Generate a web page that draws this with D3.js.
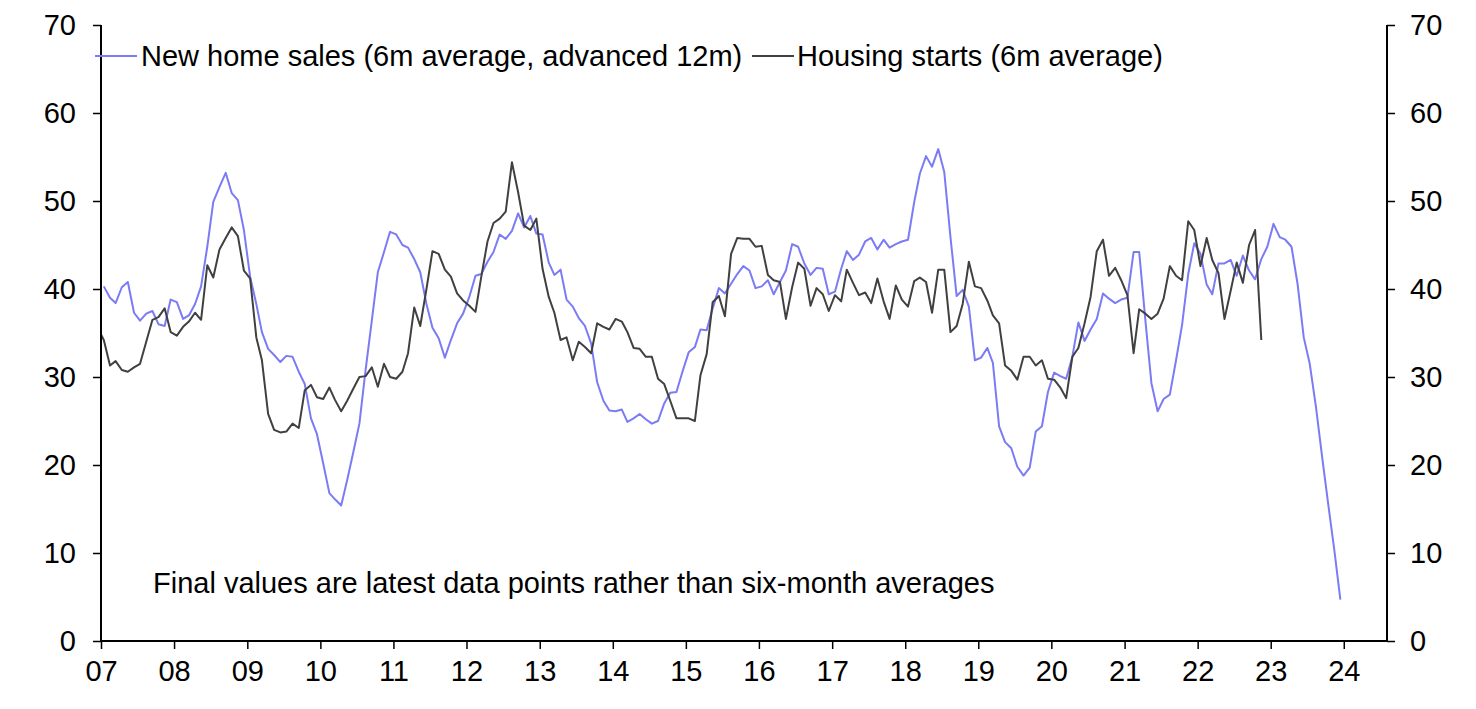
<!DOCTYPE html>
<html>
<head>
<meta charset="utf-8">
<script src="https://cdn.jsdelivr.net/npm/d3@7"></script>
<style>
  html, body { margin: 0; padding: 0; background: #fff; }
  svg { display: block; }
  text { font-family: "Liberation Sans", Arial, sans-serif; fill: #000; }
</style>
</head>
<body>
<svg id="chart" width="1476" height="709"></svg>
<script>
// New home sales (6m average, advanced 12m), monthly from Jan 2007
const salesStart = [2007, 0];
const newHomeSales = [
  40.3, 39.0, 38.4, 40.2, 40.8, 37.3, 36.4, 37.2, 37.5, 36.0, 35.8, 38.8,
  38.5, 36.6, 37.0, 38.3, 40.3, 44.8, 49.9, 51.6, 53.2, 50.9, 50.1, 46.7,
  41.4, 38.3, 35.1, 33.2, 32.5, 31.7, 32.4, 32.3, 30.6, 29.2, 25.3, 23.5,
  20.2, 16.8, 16.1, 15.4, 18.3, 21.5, 24.7, 30.8, 36.4, 41.9, 44.2, 46.5,
  46.2, 45.0, 44.7, 43.4, 41.9, 38.3, 35.6, 34.4, 32.2, 34.2, 36.1, 37.2,
  39.1, 41.5, 41.7, 43.1, 44.2, 46.2, 45.7, 46.6, 48.6, 47.0, 48.3, 46.3,
  46.2, 43.0, 41.6, 42.2, 38.8, 38.0, 36.7, 35.8, 33.8, 29.4, 27.3, 26.2,
  26.1, 26.3, 24.9, 25.3, 25.8, 25.2, 24.7, 25.0, 27.0, 28.2, 28.3, 30.6,
  32.8, 33.4, 35.4, 35.3, 37.8, 40.1, 39.5, 40.6, 41.7, 42.6, 42.1, 40.1,
  40.3, 41.0, 39.4, 40.8, 42.1, 45.1, 44.8, 42.9, 41.6, 42.4, 42.3, 39.4,
  39.7, 42.3, 44.3, 43.3, 43.9, 45.4, 45.8, 44.5, 45.6, 44.7, 45.1, 45.4,
  45.6, 49.9, 53.1, 55.1, 53.9, 55.9, 53.3, 45.9, 39.2, 39.9, 38.0, 31.9,
  32.2, 33.3, 31.6, 24.4, 22.6, 21.9, 19.8, 18.8, 19.7, 23.8, 24.4, 28.3,
  30.5, 30.1, 29.8, 32.3, 36.2, 34.1, 35.4, 36.6, 39.5, 38.9, 38.4, 38.8,
  39.0, 44.2, 44.2, 36.4, 29.3, 26.1, 27.5, 28.0, 31.9, 35.9, 41.7, 45.2,
  44.0, 40.5, 39.4, 42.9, 42.9, 43.3, 41.5, 43.8, 42.1, 41.1, 43.4, 44.8,
  47.4, 45.9, 45.6, 44.8, 40.6, 34.5, 31.5, 26.6, 20.9, 15.6, 10.3, 4.7
];

// Housing starts (6m average), monthly from Dec 2006
const startsStart = [2006, 11];
const housingStarts = [
  35.6,
  34.2, 31.3, 31.8, 30.8, 30.6, 31.1, 31.5, 34.0, 36.5, 36.8, 37.8, 35.1,
  34.7, 35.7, 36.3, 37.3, 36.5, 42.7, 41.3, 44.5, 45.8, 47.0, 46.0, 42.1,
  41.2, 34.5, 31.9, 25.8, 24.0, 23.7, 23.8, 24.7, 24.2, 28.5, 29.1, 27.7,
  27.5, 28.8, 27.4, 26.1, 27.3, 28.7, 30.0, 30.1, 31.1, 28.9, 31.5, 30.0,
  29.8, 30.6, 32.7, 37.9, 35.8, 40.0, 44.3, 44.0, 42.2, 41.4, 39.5, 38.7,
  38.1, 37.4, 41.4, 45.4, 47.5, 48.0, 48.8, 54.4, 51.0, 47.2, 46.7, 48.0,
  42.3, 39.1, 37.3, 34.2, 34.5, 31.9, 34.0, 33.4, 32.7, 36.1, 35.7, 35.4,
  36.6, 36.3, 35.1, 33.3, 33.2, 32.3, 32.3, 29.8, 29.2, 27.3, 25.3, 25.3,
  25.3, 25.0, 30.2, 32.6, 38.5, 39.2, 36.9, 44.0, 45.8, 45.7, 45.7, 44.8,
  44.9, 41.6, 41.0, 40.8, 36.6, 40.2, 43.0, 42.3, 38.1, 40.1, 39.4, 37.5,
  39.3, 38.6, 42.2, 40.7, 39.3, 39.6, 38.4, 41.2, 38.6, 36.6, 40.4, 38.8,
  38.0, 40.9, 41.3, 40.8, 37.3, 42.2, 42.2, 35.1, 35.8, 38.3, 43.1, 40.3,
  40.1, 38.7, 37.0, 36.1, 31.3, 30.7, 29.7, 32.3, 32.3, 31.3, 31.9, 29.8,
  29.7, 28.8, 27.6, 32.3, 33.3, 36.1, 39.1, 44.3, 45.6, 41.5, 42.4, 41.0,
  39.3, 32.7, 37.7, 37.2, 36.6, 37.2, 38.9, 42.6, 41.5, 41.0, 47.7, 46.7,
  42.6, 45.8, 43.3, 41.8, 36.6, 39.8, 43.0, 40.7, 45.0, 46.7, 34.2
];

const yTicks = [0, 10, 20, 30, 40, 50, 60, 70];
const xTickYears = d3.range(2007, 2025);
const seriesNames = ["New home sales (6m average, advanced 12m)", "Housing starts (6m average)"];
const annotation = "Final values are latest data points rather than six-month averages";

const colors = { sales: "#7b7bf5", starts: "#404040" };

(function () {
const svg = d3.select("#chart");
const pL = 101, pR = 1387, pT = 25, pB = 641;

const x = d3.scaleTime()
  .domain([new Date(2007, 0, 1), new Date(2024, 7, 4)])
  .range([pL, pR]);
const y = d3.scaleLinear().domain([0, 70]).range([pB, pT]);

const toPoints = (arr, start) => arr.map((v, i) => ({ date: new Date(start[0], start[1] + i, 15), v }));
const salesPts = toPoints(newHomeSales, salesStart);
const startsPts = toPoints(housingStarts, startsStart);

svg.append("defs").append("clipPath").attr("id", "clip")
  .append("rect").attr("x", pL).attr("y", pT).attr("width", pR - pL).attr("height", pB - pT);

const line = d3.line().x(d => x(d.date)).y(d => y(d.v));

const g = svg.append("g").attr("clip-path", "url(#clip)");
g.append("path").datum(salesPts).attr("d", line)
  .attr("fill", "none").attr("stroke", colors.sales).attr("stroke-width", 2).attr("stroke-linejoin", "round");
g.append("path").datum(startsPts).attr("d", line)
  .attr("fill", "none").attr("stroke", colors.starts).attr("stroke-width", 2).attr("stroke-linejoin", "round");

const fontSize = 29;

const yl = svg.append("g").attr("transform", `translate(${pL},0)`)
  .call(d3.axisLeft(y).tickValues(yTicks).tickSize(8).tickPadding(17).tickFormat(d3.format("d")));
const yr = svg.append("g").attr("transform", `translate(${pR},0)`)
  .call(d3.axisRight(y).tickValues(yTicks).tickSize(8).tickPadding(15).tickFormat(d3.format("d")));
const xa = svg.append("g").attr("transform", `translate(0,${pB})`)
  .call(d3.axisBottom(x).tickValues(xTickYears.map(v => new Date(v, 0, 1))).tickSize(8).tickPadding(11)
    .tickFormat(d => d3.timeFormat("%y")(d)));
[yl, yr, xa].forEach(a => {
  a.selectAll("path.domain").attr("stroke", "#000").attr("stroke-width", 2);
  a.selectAll(".tick line").attr("stroke", "#000").attr("stroke-width", 1.5);
  a.selectAll(".tick text").style("font-size", fontSize + "px").style("font-family", '"Liberation Sans", Arial, sans-serif').attr("fill", "#000");
});
yl.select("path.domain").attr("d", `M0,${pT}V${pB}`);
yr.select("path.domain").attr("d", `M0,${pT}V${pB}`);
xa.select("path.domain").attr("d", `M${pL},0H${pR}`);

const lg = svg.append("g");
lg.append("line").attr("x1", 95).attr("x2", 137).attr("y1", 56).attr("y2", 56)
  .attr("stroke", colors.sales).attr("stroke-width", 2);
lg.append("text").attr("x", 141).attr("y", 56).attr("dy", "0.35em")
  .style("font-size", fontSize + "px").text(seriesNames[0]);
lg.append("line").attr("x1", 752).attr("x2", 794).attr("y1", 56).attr("y2", 56)
  .attr("stroke", colors.starts).attr("stroke-width", 2);
lg.append("text").attr("x", 797).attr("y", 56).attr("dy", "0.35em")
  .style("font-size", fontSize + "px").text(seriesNames[1]);

svg.append("text").attr("x", 153).attr("y", 583).attr("dy", "0.35em")
  .style("font-size", fontSize + "px").text(annotation);
})();
</script>
</body>
</html>
